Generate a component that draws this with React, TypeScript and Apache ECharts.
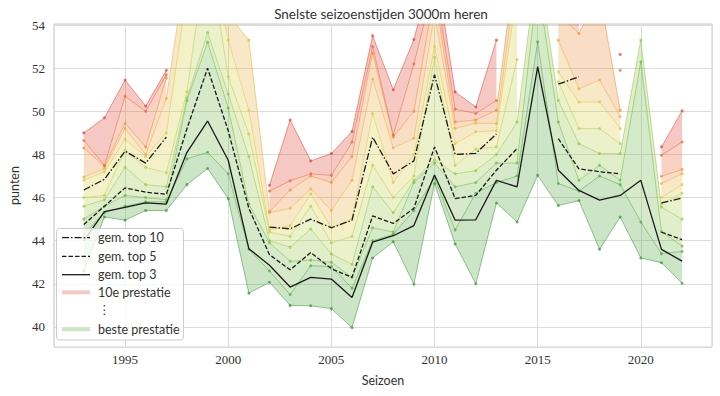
import React, { useEffect, useRef } from "react";
import * as echarts from "echarts";

const YEARS = [1993, 1994, 1995, 1996, 1997, 1998, 1999, 2000, 2001, 2002, 2003, 2004, 2005, 2006, 2007, 2008, 2009, 2010, 2011, 2012, 2013, 2014, 2015, 2016, 2017, 2018, 2019, 2020, 2021, 2022];

// rank 1 (best) ... rank 10
const R1 = [42.6, 45.1, 44.95, 45.4, 45.4, 46.6, 47.35, 45.95, 41.56, 42.07, 41.0, 40.98, 40.85, 39.97, 43.2, 43.95, 41.98, 46.65, 43.85, 42.0, 45.75, 44.87, 47.03, 45.63, 45.86, 43.6, 45.1, 43.2, 42.98, 42.03];
const R2 = [44.3, 45.3, 45.6, 45.8, 45.8, 47.8, 48.1, 47.1, 43.6, 42.6, 41.5, 42.84, 42.8, 41.8, 44.0, 44.3, 45.4, 46.9, 44.5, 46.2, 46.7, 47.0, 53.22, 46.65, 46.3, 47.0, 46.6, 44.87, 43.4, 43.5];
const R3 = [45.0, 45.6, 46.1, 46.0, 45.9, 50.5, 53.2, 50.15, 45.7, 43.9, 43.05, 43.1, 43.0, 42.3, 44.6, 44.4, 46.7, 47.6, 46.5, 46.7, 47.6, 47.6, 55.95, 49.5, 46.8, 47.5, 46.8, 52.3, 44.42, 43.75];
const R4 = [45.6, 45.9, 47.4, 46.6, 46.5, 50.6, 53.65, 50.8, 47.9, 44.0, 43.7, 44.54, 43.38, 42.9, 46.5, 45.3, 46.8, 47.75, 47.1, 47.25, 48.0, 49.5, 57.0, 50.5, 48.5, 48.04, 48.04, 53.3, 45.56, 45.0];
const R5 = [46.0, 46.1, 48.2, 47.4, 47.15, 50.9, 57.7, 51.6, 48.95, 44.4, 44.2, 45.6, 43.9, 44.2, 47.5, 46.0, 47.0, 52.5, 47.5, 48.25, 48.35, 52.4, null, 51.37, 49.2, 49.2, 48.5, null, 45.7, 46.2];
const R6 = [46.8, 47.2, 48.7, 47.9, 49.0, 55.5, 58.0, 53.3, 50.05, 44.5, 44.7, 46.17, 44.6, 45.0, 49.9, 46.7, 48.0, 53.0, 48.5, 49.05, 49.1, 55.5, null, 51.83, 50.43, 50.44, 49.2, null, 46.0, 46.6];
const R7 = [46.95, 47.35, 49.2, 48.0, 50.6, 57.0, 59.0, 54.5, 53.3, 45.3, 45.5, 46.4, 45.4, 46.8, 51.5, 48.3, 48.75, 54.5, 49.2, 49.45, 49.43, 56.5, null, 53.3, 51.05, 51.45, 49.75, null, 46.65, 47.11];
const R8 = [48.3, 47.45, 49.45, 48.35, 51.55, null, null, null, null, 45.35, 46.35, 47.0, 46.7, 47.9, 52.7, 48.8, 50.0, 55.5, 49.5, 49.6, 50.05, 57.5, null, 54.5, 53.61, 55.5, 50.05, null, 46.99, 47.3];
const R9 = [48.65, 47.5, 50.7, 50.0, 51.7, null, null, null, null, 46.3, 46.78, 47.1, 47.03, 48.57, 53.0, 48.9, 52.2, 56.0, 50.1, 49.9, 50.5, null, null, 55.0, 57.0, null, 51.9, null, 47.96, 48.58];
const R10 = [49.0, 49.7, 51.45, 50.25, 51.9, null, null, null, null, 46.57, 49.6, 47.7, 48.04, 49.07, 53.5, 51.0, 53.33, 57.0, 50.9, 50.2, 53.3, null, null, 55.5, 60.0, null, 52.64, null, 48.35, 50.02];

const AVG10 = [46.35, 46.85, 48.15, 47.6, 48.8, null, null, null, null, 44.63, 44.55, 45.0, 44.6, 44.95, 48.8, 47.1, 47.7, 51.7, 48.0, 48.05, 48.95, null, null, 51.26, 51.6, null, null, null, 45.75, 45.98];
const AVG5 = [44.75, 45.6, 46.45, 46.25, 46.15, 49.2, 52.0, 49.1, 45.5, 43.35, 42.65, 43.45, 42.7, 42.3, 45.15, 44.8, 45.5, 48.35, 45.95, 46.1, 47.27, 48.27, null, 48.73, 47.33, 47.2, 47.1, null, 44.4, 44.05];
const AVG3 = [44.0, 45.35, 45.55, 45.75, 45.7, 48.1, 49.55, 47.73, 43.63, 42.86, 41.85, 42.3, 42.22, 41.37, 43.93, 44.23, 44.7, 47.05, 44.95, 44.97, 46.8, 46.5, 52.07, 47.27, 46.33, 45.88, 46.1, 46.8, 43.6, 43.05];

const RANK_COLORS = ["#3c9a3c", "#55aa44", "#74b84a", "#98c84e", "#bccf4e", "#d9cc4a", "#e8b444", "#ee9040", "#eb6a3c", "#e0483a"];

const SANS = "Lato, 'DejaVu Sans', sans-serif";
const SERIF = "'Liberation Serif', 'DejaVu Serif', serif";
const TXT = "#333333";

export default function App() {
  const ref = useRef<HTMLDivElement>(null);
  useEffect(() => {
    document.body.style.margin = "0";
    const chart = echarts.init(ref.current as HTMLDivElement, null, { renderer: "svg" });
    const ranks = [R1, R2, R3, R4, R5, R6, R7, R8, R9, R10];

    const bandData: any[] = [];
    for (let k = 0; k < 9; k++) {
      const lo = ranks[k];
      const hi = ranks[k + 1];
      let start = -1;
      for (let i = 0; i <= YEARS.length; i++) {
        const ok = i < YEARS.length && lo[i] != null && hi[i] != null;
        if (ok && start < 0) start = i;
        if (!ok && start >= 0) {
          if (i - 1 > start) bandData.push([YEARS[start], lo[start], k, start, i - 1]);
          start = -1;
        }
      }
    }

    const intFmt = (step: number) => (v: number) => {
      const r = Math.round(v);
      return Math.abs(v - r) < 1e-6 && r % step === 0 ? String(r) : "";
    };

    const series: any[] = [
      {
        type: "custom",
        clip: true,
        z: 1,
        silent: true,
        encode: { x: 0, y: 1 },
        data: bandData,
        renderItem: (params: any, api: any) => {
          const k = api.value(2);
          const s = api.value(3);
          const e = api.value(4);
          const pts: number[][] = [];
          for (let i = s; i <= e; i++) pts.push(api.coord([YEARS[i], ranks[k][i]]));
          for (let i = e; i >= s; i--) pts.push(api.coord([YEARS[i], ranks[k + 1][i]]));
          return {
            type: "polygon",
            shape: { points: pts },
            style: { fill: RANK_COLORS[k + 1], opacity: 0.3 },
          };
        },
      },
    ];

    ranks.forEach((r, k) => {
      series.push({
        type: "line",
        z: 2,
        silent: true,
        clip: true,
        data: YEARS.map((y, i) => [y, r[i]]),
        symbol: "circle",
        symbolSize: 3,
        showSymbol: true,
        lineStyle: { color: RANK_COLORS[k], width: 1, opacity: 0.55 },
        itemStyle: { color: RANK_COLORS[k], opacity: 0.75 },
      });
    });

    const avgs: [any[], any][] = [
      [AVG10, [7, 2, 1.5, 2]],
      [AVG5, [4.5, 2]],
      [AVG3, "solid"],
    ];
    avgs.forEach(([arr, dash]) => {
      series.push({
        type: "line",
        z: 3,
        silent: true,
        clip: true,
        data: YEARS.map((y, i) => [y, arr[i]]),
        symbol: "none",
        lineStyle: { color: "#1a1a1a", width: 1.3, type: dash },
      });
    });

    const legendRows = [
      { y: 237.7, label: "gem. top 10" },
      { y: 256.3, label: "gem. top 5" },
      { y: 274.7, label: "gem. top 3" },
      { y: 292.3, label: "10e prestatie" },
      { y: 309, label: "\u22ee" },
      { y: 329.3, label: "beste prestatie" },
    ];

    const graphic: any[] = [
      {
        type: "text",
        x: 381,
        y: 14,
        style: { text: "Snelste seizoenstijden 3000m heren", font: `13.5px ${SANS}`, fill: TXT, align: "center", verticalAlign: "middle" },
      },
      {
        type: "rect",
        z: 10,
        shape: { x: 56.5, y: 228.5, width: 127, height: 111.5, r: 3 },
        style: { fill: "rgba(255,255,255,0.8)", stroke: "#cccccc", lineWidth: 1 },
      },
      { type: "line", z: 11, shape: { x1: 62, y1: 237.7, x2: 90, y2: 237.7 }, style: { stroke: "#1a1a1a", lineWidth: 1.3, lineDash: [7, 2, 1.5, 2] } },
      { type: "line", z: 11, shape: { x1: 62, y1: 256.3, x2: 90, y2: 256.3 }, style: { stroke: "#1a1a1a", lineWidth: 1.3, lineDash: [4.5, 2] } },
      { type: "line", z: 11, shape: { x1: 62, y1: 274.7, x2: 90, y2: 274.7 }, style: { stroke: "#1a1a1a", lineWidth: 1.3 } },
      { type: "line", z: 11, shape: { x1: 62, y1: 292.3, x2: 90, y2: 292.3 }, style: { stroke: RANK_COLORS[9], lineWidth: 4, opacity: 0.3 } },
      { type: "line", z: 11, shape: { x1: 62, y1: 329.3, x2: 90, y2: 329.3 }, style: { stroke: RANK_COLORS[1], lineWidth: 4, opacity: 0.3 } },
      ...legendRows.map((r) => ({
        type: "text",
        z: 11,
        x: 98,
        y: r.y,
        style: { text: r.label, font: `12.5px ${SANS}`, fill: TXT, align: "left", verticalAlign: "middle" },
      })),
    ];

    chart.setOption({
      animation: false,
      backgroundColor: "#ffffff",
      grid: { left: 50, right: 8, top: 24, bottom: 49, show: true, borderColor: "#cccccc", borderWidth: 1, backgroundColor: "transparent" },
      xAxis: {
        type: "value",
        min: 1991.55,
        max: 2023.45,
        splitNumber: 6,
        axisLine: { show: false },
        axisTick: { show: false },
        splitLine: { show: true, lineStyle: { color: "#dcdcdc", width: 1 } },
        axisLabel: { formatter: intFmt(5), fontFamily: SERIF, fontSize: 13, color: TXT, margin: 6 },
        name: "Seizoen",
        nameLocation: "middle",
        nameGap: 27,
        nameTextStyle: { fontFamily: SANS, fontSize: 12.5, color: TXT },
      },
      yAxis: {
        type: "value",
        min: 39.07,
        max: 54.05,
        splitNumber: 7,
        axisLine: { show: false },
        axisTick: { show: false },
        splitLine: { show: true, lineStyle: { color: "#dcdcdc", width: 1 } },
        axisLabel: { formatter: intFmt(2), fontFamily: SERIF, fontSize: 13, color: TXT, margin: 9 },
        name: "punten",
        nameLocation: "middle",
        nameGap: 30,
        nameTextStyle: { fontFamily: SANS, fontSize: 12.5, color: TXT },
      },
      series,
      graphic,
    });
    return () => chart.dispose();
  }, []);
  return <div ref={ref} style={{ position: "absolute", left: 0, top: 0, width: 720, height: 396 }} />;
}
